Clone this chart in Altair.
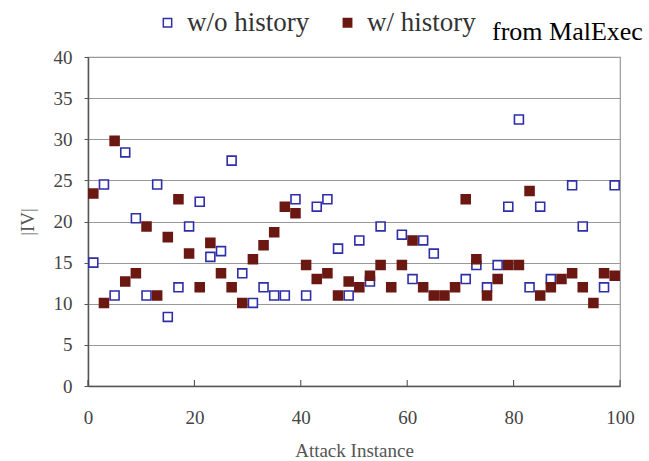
import altair as alt
import pandas as pd

instances = list(range(1, 100, 2))
wo_history = [15.0, 24.5, 11.0, 28.4, 20.4, 11.0, 24.5, 8.4, 12.0, 19.4,
              22.4, 15.7, 16.4, 27.4, 13.7, 10.1, 12.0, 11.0, 11.0, 22.7,
              11.0, 21.8, 22.7, 16.7, 11.0, 17.7, 12.7, 19.4, None, 18.4,
              13.0, 17.7, 16.1, None, None, 13.0, 14.7, 12.0, 14.7, 21.8,
              32.4, 12.0, 21.8, 13.0, None, 24.4, 19.4, None, 12.0, 24.4]
w_history = [23.4, 10.1, 29.8, 12.7, 13.7, 19.4, 11.0, 18.1, 22.7, 16.1,
             12.0, 17.4, 13.7, 12.0, 10.1, 15.4, 17.1, 18.7, 21.8, 21.0,
             14.7, 13.0, 13.7, 11.0, 12.7, 12.0, 13.4, 14.7, 12.0, 14.7,
             17.7, 12.0, 11.0, 11.0, 12.0, 22.7, 15.4, 11.0, 13.0, 14.7,
             14.7, 23.7, 11.0, 12.0, 13.0, 13.7, 12.0, 10.1, 13.7, 13.4]
series_names = ["w/o history", "w/ history"]
x_ticks = [0, 20, 40, 60, 80, 100]

rows = []
for i, a, b in zip(instances, wo_history, w_history):
    if a is not None:
        rows.append({"instance": i, "value": a, "series": series_names[0]})
    if b is not None:
        rows.append({"instance": i, "value": b, "series": series_names[1]})
df = pd.DataFrame(rows)
tick_df = pd.DataFrame({"t": x_ticks})

BLUE = "#2e2ea8"
RED = "#6b1712"
FONT = "Liberation Serif"

xs = alt.Scale(domain=[0, 100], nice=False)
ys = alt.Scale(domain=[0, 40], nice=False)

legend = alt.Legend(title=None, orient="none", legendX=66, legendY=-48,
                    direction="horizontal", symbolType="square",
                    symbolSize=70, symbolStrokeWidth=1.5,
                    labelFont=FONT, labelFontSize=27, labelColor="#333",
                    labelOffset=6, columnPadding=24)

points = alt.Chart(df).mark_point(shape="square", size=80, strokeWidth=1.6, opacity=1, filled=False).encode(
    x=alt.X("instance:Q", scale=xs,
            axis=alt.Axis(values=x_ticks, title="Attack Instance", grid=False, ticks=False,
                          labelFlush=False, labelPadding=22, titlePadding=14)),
    y=alt.Y("value:Q", scale=ys,
            axis=alt.Axis(values=list(range(0, 41, 5)), title="|IV|", grid=True,
                          tickSize=4, labelPadding=12, titlePadding=16)),
    stroke=alt.Stroke("series:N", scale=alt.Scale(domain=series_names, range=[BLUE, RED]),
                      sort=series_names, legend=legend),
    fill=alt.Fill("series:N", scale=alt.Scale(domain=series_names, range=["white", RED]),
                  sort=series_names, legend=legend),
    order=alt.Order("series:N", sort="descending"),
)

xticks = alt.Chart(tick_df).mark_rule(color="#444", strokeWidth=1).encode(
    x=alt.X("t:Q", scale=xs), y=alt.value(329), y2=alt.value(323)
)

note = alt.Chart(pd.DataFrame({"label": ["from MalExec"]})).mark_text(
    align="left", baseline="middle", font=FONT, fontSize=26, color="black"
).encode(x=alt.value(404), y=alt.value(-25), text="label:N")

chart = alt.layer(points, xticks, note).properties(
    width=532, height=329,
    padding={"left": 88, "top": 57, "right": 29, "bottom": 75},
    autosize=alt.AutoSizeParams(type="none"),
).configure(
    font=FONT
).configure_view(
    stroke="#999", strokeWidth=1.2
).configure_legend(
    labelFont=FONT
).configure_axis(
    labelFont=FONT, titleFont=FONT, labelFontSize=19, titleFontSize=19,
    labelColor="#444", titleColor="#555", titleFontWeight="normal",
    domainColor="#555", tickColor="#555", gridColor="#999", gridWidth=1.2
).configure_axisX(domainWidth=1.5).configure_axisY(domainWidth=1.5)

chart.save("out.html", embed_options={"renderer": "svg", "actions": False})
